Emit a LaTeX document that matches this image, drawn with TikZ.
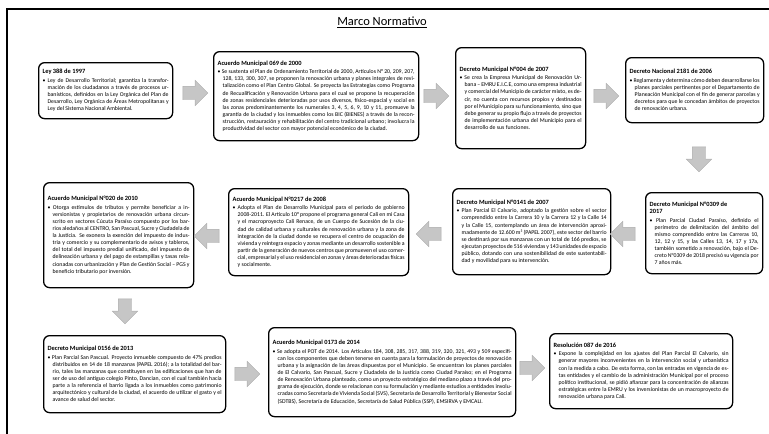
\documentclass[tikz,border=0pt]{standalone}
\usepackage{fontspec}
\setmainfont{Carlito}
\usetikzlibrary{shapes.arrows}
\newcommand\bxc[2]{{\fontsize{6.4}{7.6}\selectfont\bfseries\raggedright #1\par}\vspace{1.4pt}%
  {\fontsize{5.8}{7.1}\selectfont\emergencystretch=2em\hangindent=5pt\hangafter=1 \textbullet~#2\par}}
\tikzset{
  lbox/.style={draw=black, line width=1.3pt, rounded corners=6pt, fill=white,
    anchor=north west, inner xsep=4pt, inner ysep=3pt, align=justify, text=black},
  garrow/.style={single arrow, draw=gray!65, fill=gray!45, line width=0.4pt,
    inner sep=6.5pt, single arrow head extend=6pt, minimum height=25pt},
  frameline/.style={line width=1.6pt, black}
}
\begin{document}
\begin{tikzpicture}[x=1pt,y=-1pt]
\useasboundingbox (0,0) rectangle (769,434);
\coordinate (fr) at (769,9);
\coordinate (ftl) at (7,9);
\coordinate (fbl) at (7,434);
\draw[frameline] (fr) -- (ftl) -- (fbl);

\node[font=\fontsize{12.5}{14}\selectfont] (title) at (382,22) {\underline{Marco Normativo}};

% row 1
\node[lbox, text width=126pt, minimum height=56pt] (b1) at (38,62)
 {\bxc{Ley 388 de 1997}{Ley de Desarrollo Territorial; garantiza la transformación de los ciudadanos a través de procesos urbanísticos, definidos en la Ley Orgánica del Plan de Desarrollo, Ley Orgánica de Áreas Metropolitanas y Ley del Sistema Nacional Ambiental.}};
\node[lbox, text width=197pt, minimum height=89pt] (b2) at (213,51)
 {\bxc{Acuerdo Municipal 069 de 2000}{Se sustenta el Plan de Ordenamiento Territorial de 2000, Artículos N° 20, 209, 207, 128, 133, 300, 307, se proponen la renovación urbana y planes integrales de revitalización como el Plan Centro Global. Se proyecta las Estrategias como Programa de Recualificación y Renovación Urbana para el cual se propone la recuperación de zonas residenciales deterioradas por usos diversos, físico-espacial y social en las zonas predominantemente los numerales 3, 4, 5, 6, 9, 10 y 11, promueve la garantía de la ciudad y los inmuebles como los BIC (BIENES) a través de la reconstrucción, restauración y rehabilitación del centro tradicional urbano; involucra la productividad del sector con mayor potencial económico de la ciudad.}};
\node[lbox, text width=122pt, minimum height=101pt] (b3) at (455,47)
 {\bxc{Decreto Municipal N°004 de 2007}{Se crea la Empresa Municipal de Renovación Urbana – EMRU E.I.C.E, como una empresa industrial y comercial del Municipio de carácter mixto, es decir, no cuenta con recursos propios y destinados por el Municipio para su funcionamiento, sino que debe generar su propio flujo a través de proyectos de implementación urbana del Municipio para el desarrollo de sus funciones.}};
\node[lbox, text width=130pt, minimum height=65pt] (b4) at (625,57)
 {\bxc{Decreto Nacional 2181 de 2006}{Reglamenta y determina cómo deben desarrollarse los planes parciales pertinentes por el Departamento de Planeación Municipal con el fin de generar parcelas y decretos para que le concedan ámbitos de proyectos de renovación urbana.}};

% row 2
\node[lbox, text width=109pt, minimum height=81pt] (b5) at (645,192)
 {\bxc{Decreto Municipal N°0309 de\newline 2017}{Plan Parcial Ciudad Paraíso, definido el perímetro de delimitación del ámbito del mismo comprendido entre las Carreras 10, 12, 12 y 15, y las Calles 13, 14, 17 y 17a, también sometido a renovación, bajo el Decreto N°0309 de 2018 precisó su vigencia por 7 años más.}};
\node[lbox, text width=150pt, minimum height=86pt] (b6) at (452,188)
 {\bxc{Decreto Municipal N°0141 de 2007}{Plan Parcial El Calvario, adoptado la gestión sobre el sector comprendido entre la Carrera 10 y la Carrera 12 y la Calle 14 y la Calle 15, contemplando un área de intervención aproximadamente de 12.600 m² (PAPEL 2007), este sector del barrio se destinará por sus manzanas con un total de 166 predios, se ejecutan proyectos de 516 viviendas y 143 unidades de espacio público, dotando con una sostenibilidad de este sustentabilidad y movilidad para su intervención.}};
\node[lbox, text width=172pt, minimum height=87pt] (b7) at (228,188)
 {\bxc{Acuerdo Municipal N°0217 de 2008}{Adopta el Plan de Desarrollo Municipal para el periodo de gobierno 2008-2011. El Artículo 10° propone el programa general Cali en mi Casa y el macroproyecto Cali Renace, de un Cuerpo de Sucesión de la ciudad de calidad urbana y culturales de renovación urbana y la zona de integración de la ciudad donde se recupera el centro de ocupación de vivienda y reintegra espacio y zonas mediante un desarrollo sostenible a partir de la generación de nuevos centros que promueven el uso comercial, empresarial y el uso residencial en zonas y áreas deterioradas físicas y socialmente.}};
\node[lbox, text width=142pt, minimum height=105pt] (b8) at (43,182)
 {\bxc{Acuerdo Municipal N°020 de 2010}{Otorga estímulos de tributos y permite beneficiar a inversionistas y propietarios de renovación urbana circunscrito en sectores Cúcuta Paraíso compuesto por los barrios aledaños al CENTRO, San Pascual, Sucre y Ciudadela de la Justicia. Se exonera la exención del impuesto de industria y comercio y su complementario de avisos y tableros, del total del impuesto predial unificado, del impuesto de delineación urbana y del pago de estampillas y tasas relacionadas con urbanización y Plan de Gestión Social – PGS y beneficio tributario por inversión.}};

% row 3
\node[lbox, text width=174pt, minimum height=77pt] (b9) at (43,335)
 {\bxc{Decreto Municipal 0156 de 2013}{Plan Parcial San Pascual. Proyecto inmueble compuesto de 47\% predios distribuidos en 14 de 18 manzanas (PAPEL 2016); a la totalidad del barrio, tales las manzanas que constituyen en las edificaciones que han de ser de uso del antiguo colegio Pinto, Dancian, con el cual también hacía parte a la referencia el barrio ligada a los inmuebles como patrimonio arquitectónico y cultural de la ciudad, el acuerdo de utilizar el gasto y el avance de salud del sector.}};
\node[lbox, text width=239pt, minimum height=89pt] (b10) at (268,327)
 {\bxc{Acuerdo Municipal 0173 de 2014}{Se adopta el POT de 2014. Los Artículos 184, 308, 285, 317, 388, 319, 320, 321, 493 y 509 especifican los componentes que deben tenerse en cuenta para la formulación de proyectos de renovación urbana y la asignación de las áreas dispuestas por el Municipio. Se encuentran los planes parciales de El Calvario, San Pascual, Sucre y Ciudadela de la Justicia como Ciudad Paraíso; en el Programa de Renovación Urbana planteado, como un proyecto estratégico del mediano plazo a través del programa de ejecución, donde se relacionan con su formulación y mediante estudios a entidades involucradas como Secretaría de Vivienda Social (SVS), Secretaría de Desarrollo Territorial y Bienestar Social (SDTBS), Secretaría de Educación, Secretaría de Salud Pública (SSP), EMSIRVA y EMCALI.}};
\node[lbox, text width=175pt, minimum height=75pt] (b11) at (549,333)
 {\bxc{Resolución 087 de 2016}{Expone la complejidad en los ajustes del Plan Parcial El Calvario, sin generar mayores inconvenientes en la intervención social y urbanística con la medida a cabo. De esta forma, con las entradas en vigencia de estas entidades y el cambio de la administración Municipal por el proceso político institucional, se pidió afianzar para la concentración de alianzas estratégicas entre la EMRU y los inversionistas de un macroproyecto de renovación urbana para Cali.}};

% arrows
\node[garrow] (a1) at (192,93) {};
\node[garrow] (a2) at (433,96) {};
\node[garrow] (a3) at (603,96) {};
\node[garrow, shape border rotate=270] (a4) at (699,156) {};
\node[garrow, shape border rotate=180] (a5) at (626,234) {};
\node[garrow, shape border rotate=180] (a6) at (432,234) {};
\node[garrow, shape border rotate=180] (a7) at (210,236) {};
\node[garrow, shape border rotate=270] (a8) at (125,308) {};
\node[garrow] (a9) at (244,374) {};
\node[garrow] (a10) at (529,368) {};
\end{tikzpicture}
\end{document}
